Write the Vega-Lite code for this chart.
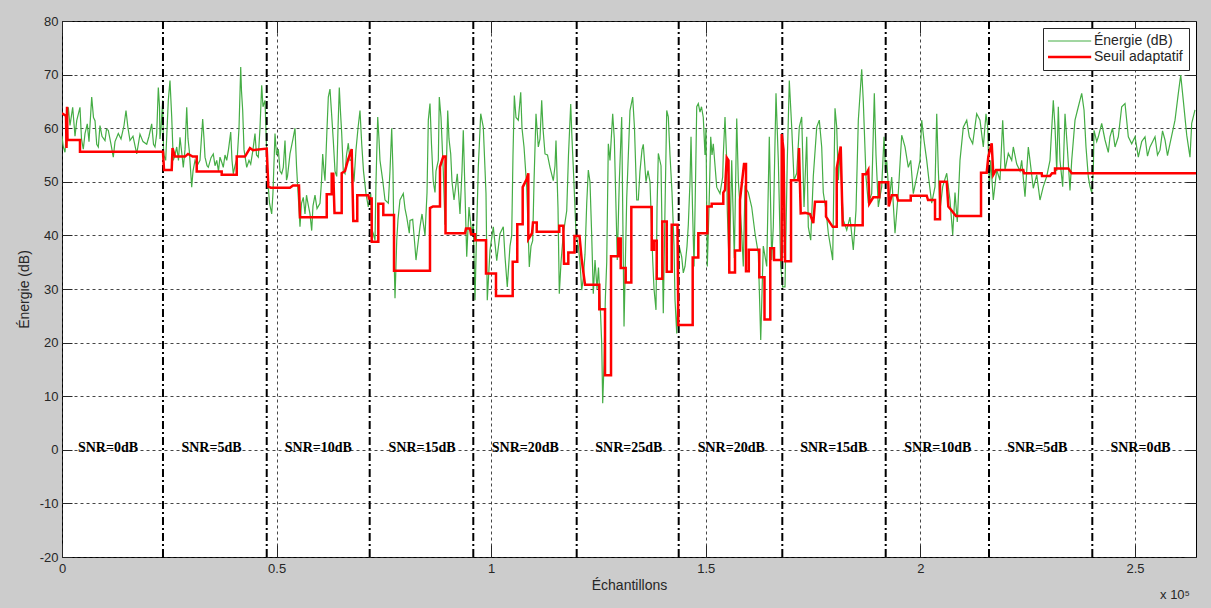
{
  "$schema": "https://vega.github.io/schema/vega-lite/v6.json",
  "width": 1134,
  "height": 536,
  "autosize": {"type": "none"},
  "padding": {"left": 62, "top": 21, "right": 15, "bottom": 51},
  "background": "#cccccc",
  "config": {
    "view": {"fill": "#ffffff", "stroke": "#000000", "strokeWidth": 1},
    "axis": {
      "labelFont": "Liberation Sans", "titleFont": "Liberation Sans",
      "labelFontSize": 13, "titleFontSize": 14, "titleFontWeight": "normal",
      "labelColor": "#262626", "titleColor": "#262626", "tickColor": "#262626",
      "gridColor": "#262626", "gridDash": [3, 3], "gridOpacity": 0.85, "gridWidth": 1,
      "domain": false
    }
  },
  "datasets": {
    "energie": [
      {"x":0,"y":58.5},{"x":0.0030,"y":56.5},{"x":0.0070,"y":55.5},{"x":0.0100,"y":59.0},{"x":0.0147,"y":63.9},{"x":0.0186,"y":60.5},{"x":0.0249,"y":63.9},{"x":0.0303,"y":58.5},{"x":0.0343,"y":61.4},{"x":0.0419,"y":63.9},{"x":0.0454,"y":58.0},{"x":0.0496,"y":56.1},{"x":0.0536,"y":59.0},{"x":0.0589,"y":60.8},{"x":0.0629,"y":57.5},{"x":0.0692,"y":65.8},{"x":0.0734,"y":62.0},{"x":0.0769,"y":61.4},{"x":0.0809,"y":57.0},{"x":0.0846,"y":56.5},{"x":0.0885,"y":60.5},{"x":0.0932,"y":58.5},{"x":0.1002,"y":57.7},{"x":0.1037,"y":59.8},{"x":0.1079,"y":59.6},{"x":0.1142,"y":57.0},{"x":0.1195,"y":54.6},{"x":0.1235,"y":57.5},{"x":0.1312,"y":59.0},{"x":0.1375,"y":58.0},{"x":0.1445,"y":60.5},{"x":0.1491,"y":63.3},{"x":0.1538,"y":60.0},{"x":0.1584,"y":57.7},{"x":0.1654,"y":58.5},{"x":0.1741,"y":55.2},{"x":0.1817,"y":58.9},{"x":0.1887,"y":57.5},{"x":0.1974,"y":57.0},{"x":0.2027,"y":58.5},{"x":0.2090,"y":60.8},{"x":0.2132,"y":57.0},{"x":0.2167,"y":56.5},{"x":0.2207,"y":59.0},{"x":0.2244,"y":67.6},{"x":0.2272,"y":64.0},{"x":0.2283,"y":58.0},{"x":0.2307,"y":60.0},{"x":0.2346,"y":65.2},{"x":0.2365,"y":56.0},
      {"x":0.2377,"y":54.9},{"x":0.2416,"y":54.0},{"x":0.2477,"y":65.2},{"x":0.2516,"y":68.9},{"x":0.2556,"y":62.2},{"x":0.2593,"y":54.0},{"x":0.2633,"y":55.0},{"x":0.2673,"y":56.5},{"x":0.2714,"y":54.0},{"x":0.2749,"y":58.3},{"x":0.2796,"y":55.0},{"x":0.2826,"y":52.7},{"x":0.2866,"y":56.0},{"x":0.2906,"y":63.9},{"x":0.2936,"y":58.0},{"x":0.2966,"y":55.8},{"x":0.3022,"y":49.0},{"x":0.3052,"y":52.0},{"x":0.3099,"y":54.0},{"x":0.3146,"y":53.0},{"x":0.3215,"y":54.0},{"x":0.3278,"y":61.7},{"x":0.3309,"y":58.0},{"x":0.3332,"y":54.6},{"x":0.3379,"y":53.0},{"x":0.3409,"y":52.7},{"x":0.3472,"y":54.5},{"x":0.3525,"y":55.2},{"x":0.3565,"y":53.0},{"x":0.3605,"y":54.0},{"x":0.3646,"y":52.0},{"x":0.3681,"y":54.6},{"x":0.3728,"y":53.5},{"x":0.3758,"y":52.7},{"x":0.3798,"y":55.0},{"x":0.3838,"y":54.0},{"x":0.3879,"y":56.0},{"x":0.3931,"y":59.3},{"x":0.3961,"y":54.0},{"x":0.3991,"y":51.5},{"x":0.4031,"y":53.0},{"x":0.4084,"y":54.6},{"x":0.4124,"y":60.0},{"x":0.4164,"y":71.4},{"x":0.4182,"y":67.0},{"x":0.4210,"y":63.3},{"x":0.4241,"y":56.0},{"x":0.4304,"y":52.7},{"x":0.4357,"y":54.0},{"x":0.4397,"y":53.3},{"x":0.4450,"y":56.0},{"x":0.4497,"y":59.0},{"x":0.4532,"y":55.0},{"x":0.4574,"y":54.6},{"x":0.4613,"y":60.0},{"x":0.4653,"y":68.0},{"x":0.4683,"y":64.0},{"x":0.4730,"y":65.2},{"x":0.4770,"y":55.2},
      {"x":0.4807,"y":49.0},{"x":0.4835,"y":46.0},{"x":0.4886,"y":44.0},{"x":0.4916,"y":48.0},{"x":0.4963,"y":59.0},{"x":0.4998,"y":55.0},{"x":0.5040,"y":56.1},{"x":0.5079,"y":52.0},{"x":0.5119,"y":51.5},{"x":0.5156,"y":52.7},{"x":0.5196,"y":57.7},{"x":0.5231,"y":50.3},{"x":0.5254,"y":51.0},{"x":0.5312,"y":55.2},{"x":0.5382,"y":58.0},{"x":0.5429,"y":60.0},{"x":0.5464,"y":53.0},{"x":0.5492,"y":49.0},{"x":0.5522,"y":45.0},{"x":0.5545,"y":41.6},{"x":0.5580,"y":46.0},{"x":0.5622,"y":47.1},{"x":0.5662,"y":44.0},{"x":0.5697,"y":47.5},{"x":0.5739,"y":45.6},{"x":0.5778,"y":44.0},{"x":0.5818,"y":40.9},{"x":0.5848,"y":45.5},{"x":0.5895,"y":47.5},{"x":0.5942,"y":45.0},{"x":0.6011,"y":46.0},{"x":0.6046,"y":50.0},{"x":0.6074,"y":55.2},{"x":0.6105,"y":52.0},{"x":0.6128,"y":50.2},{"x":0.6175,"y":60.0},{"x":0.6205,"y":65.8},{"x":0.6244,"y":67.3},{"x":0.6279,"y":63.0},{"x":0.6321,"y":57.7},{"x":0.6361,"y":52.0},{"x":0.6401,"y":51.0},{"x":0.6431,"y":60.0},{"x":0.6461,"y":67.6},{"x":0.6489,"y":63.0},{"x":0.6517,"y":59.0},{"x":0.6554,"y":52.0},{"x":0.6594,"y":51.5},{"x":0.6629,"y":55.0},{"x":0.6671,"y":57.2},{"x":0.6710,"y":54.0},{"x":0.6750,"y":54.1},{"x":0.6804,"y":50.0},{"x":0.6850,"y":56.0},{"x":0.6897,"y":60.0},{"x":0.6943,"y":63.3},{"x":0.6983,"y":57.1},{"x":0.7025,"y":52.0},{"x":0.7083,"y":47.8},{"x":0.7137,"y":45.3},{"x":0.7193,"y":47.8},
      {"x":0.7223,"y":41.0},{"x":0.7253,"y":40.3},{"x":0.7293,"y":39.1},{"x":0.7316,"y":50.0},{"x":0.7356,"y":62.1},{"x":0.7386,"y":58.0},{"x":0.7409,"y":54.0},{"x":0.7472,"y":50.3},{"x":0.7526,"y":46.6},{"x":0.7603,"y":46.0},{"x":0.7642,"y":52.0},{"x":0.7682,"y":60.0},{"x":0.7712,"y":52.0},{"x":0.7736,"y":36.6},{"x":0.7759,"y":28.3},{"x":0.7799,"y":39.0},{"x":0.7829,"y":43.0},{"x":0.7875,"y":46.6},{"x":0.7952,"y":47.8},{"x":0.7992,"y":45.0},{"x":0.8032,"y":43.4},{"x":0.8092,"y":40.4},{"x":0.8108,"y":42.8},{"x":0.8171,"y":43.0},{"x":0.8225,"y":37.8},{"x":0.8248,"y":35.4},{"x":0.8302,"y":39.0},{"x":0.8341,"y":41.6},{"x":0.8388,"y":44.0},{"x":0.8458,"y":40.0},{"x":0.8505,"y":48.0},{"x":0.8535,"y":61.5},{"x":0.8574,"y":64.6},{"x":0.8609,"y":57.0},{"x":0.8651,"y":50.0},{"x":0.8691,"y":48.0},{"x":0.8714,"y":52.0},{"x":0.8768,"y":54.0},{"x":0.8791,"y":65.8},{"x":0.8831,"y":62.0},{"x":0.8884,"y":52.0},{"x":0.8924,"y":42.0},{"x":0.8987,"y":63.3},{"x":0.9017,"y":58.0},{"x":0.9057,"y":55.2},{"x":0.9087,"y":50.0},{"x":0.9134,"y":46.6},{"x":0.9210,"y":51.5},{"x":0.9273,"y":44.0},{"x":0.9320,"y":52.0},{"x":0.9350,"y":59.6},{"x":0.9390,"y":48.0},{"x":0.9430,"y":36.0},{"x":0.9483,"y":45.3},{"x":0.9546,"y":40.3},{"x":0.9583,"y":42.2},
      {"x":0.9623,"y":27.9},{"x":0.9658,"y":40.0},{"x":0.9700,"y":52.7},{"x":0.9756,"y":62.7},{"x":0.9816,"y":60.2},{"x":0.9879,"y":47.8},{"x":0.9909,"y":27.9},{"x":0.9972,"y":37.2},{"x":1.0049,"y":41.6},{"x":1.0129,"y":35.3},{"x":1.0205,"y":40.3},{"x":1.0282,"y":41.6},{"x":1.0322,"y":36.0},{"x":1.0375,"y":30.4},{"x":1.0438,"y":38.0},{"x":1.0478,"y":40.0},{"x":1.0508,"y":55.0},{"x":1.0539,"y":66.1},{"x":1.0578,"y":62.0},{"x":1.0632,"y":61.5},{"x":1.0688,"y":66.7},{"x":1.0718,"y":60.0},{"x":1.0765,"y":56.5},{"x":1.0828,"y":49.0},{"x":1.0888,"y":34.1},{"x":1.0928,"y":38.0},{"x":1.0967,"y":39.0},{"x":1.0998,"y":50.0},{"x":1.1044,"y":62.7},{"x":1.1098,"y":56.5},{"x":1.1137,"y":58.0},{"x":1.1177,"y":65.2},{"x":1.1207,"y":60.0},{"x":1.1254,"y":55.2},{"x":1.1312,"y":55.0},{"x":1.1370,"y":52.7},{"x":1.1447,"y":50.2},{"x":1.1487,"y":53.0},{"x":1.1510,"y":57.7},{"x":1.1557,"y":45.0},{"x":1.1587,"y":29.1},{"x":1.1627,"y":35.0},{"x":1.1680,"y":40.3},{"x":1.1760,"y":44.6},{"x":1.1801,"y":55.0},{"x":1.1853,"y":64.5},{"x":1.1883,"y":58.0},{"x":1.1913,"y":52.7},{"x":1.1953,"y":45.0},{"x":1.1976,"y":40.3},
      {"x":1.2030,"y":38.0},{"x":1.2069,"y":35.0},{"x":1.2109,"y":29.8},{"x":1.2146,"y":32.0},{"x":1.2186,"y":36.5},{"x":1.2226,"y":46.0},{"x":1.2263,"y":52.2},{"x":1.2302,"y":50.0},{"x":1.2342,"y":40.0},{"x":1.2379,"y":29.1},{"x":1.2419,"y":35.4},{"x":1.2466,"y":30.0},{"x":1.2500,"y":34.0},{"x":1.2535,"y":28.0},{"x":1.2575,"y":19.9},{"x":1.2598,"y":8.7},{"x":1.2629,"y":16.0},{"x":1.2659,"y":28.0},{"x":1.2692,"y":35.0},{"x":1.2729,"y":57.1},{"x":1.2768,"y":54.0},{"x":1.2831,"y":62.7},{"x":1.2869,"y":58.0},{"x":1.2938,"y":35.4},{"x":1.2985,"y":50.0},{"x":1.3041,"y":62.1},{"x":1.3095,"y":23.0},{"x":1.3158,"y":47.0},{"x":1.3234,"y":63.3},{"x":1.3297,"y":65.8},{"x":1.3339,"y":60.0},{"x":1.3391,"y":46.6},{"x":1.3428,"y":46.6},{"x":1.3467,"y":52.0},{"x":1.3514,"y":56.0},{"x":1.3544,"y":57.0},{"x":1.3607,"y":50.0},{"x":1.3654,"y":52.1},{"x":1.3700,"y":50.0},{"x":1.3763,"y":35.4},{"x":1.3794,"y":30.0},{"x":1.3840,"y":26.1},{"x":1.3864,"y":45.0},{"x":1.3894,"y":55.3},{"x":1.3957,"y":53.0},{"x":1.4010,"y":25.5},{"x":1.4050,"y":45.0},{"x":1.4090,"y":63.3},{"x":1.4127,"y":62.1},{"x":1.4166,"y":55.0},{"x":1.4213,"y":48.0},{"x":1.4260,"y":38.0},{"x":1.4283,"y":28.0},{"x":1.4323,"y":21.7},{"x":1.4353,"y":30.0},
      {"x":1.4383,"y":37.9},{"x":1.4439,"y":36.0},{"x":1.4476,"y":33.0},{"x":1.4516,"y":34.2},{"x":1.4563,"y":38.0},{"x":1.4593,"y":42.0},{"x":1.4632,"y":50.0},{"x":1.4656,"y":58.4},{"x":1.4691,"y":45.0},{"x":1.4726,"y":34.2},{"x":1.4761,"y":50.0},{"x":1.4789,"y":64.0},{"x":1.4826,"y":64.6},{"x":1.4865,"y":63.0},{"x":1.4900,"y":64.0},{"x":1.4942,"y":62.0},{"x":1.4982,"y":55.0},{"x":1.5005,"y":60.0},{"x":1.5035,"y":34.2},{"x":1.5075,"y":45.0},{"x":1.5115,"y":58.4},{"x":1.5145,"y":55.0},{"x":1.5175,"y":57.1},{"x":1.5255,"y":49.0},{"x":1.5331,"y":47.8},{"x":1.5394,"y":50.9},{"x":1.5408,"y":55.0},{"x":1.5448,"y":62.1},{"x":1.5483,"y":55.0},{"x":1.5501,"y":44.6},{"x":1.5548,"y":33.5},{"x":1.5604,"y":54.0},{"x":1.5665,"y":35.8},{"x":1.5721,"y":61.8},{"x":1.5758,"y":50.3},{"x":1.5837,"y":40.4},{"x":1.5874,"y":34.2},{"x":1.5914,"y":49.0},{"x":1.5991,"y":48.0},{"x":1.6070,"y":45.3},{"x":1.6147,"y":40.4},{"x":1.6224,"y":36.6},{"x":1.6280,"y":20.5},{"x":1.6340,"y":38.0},{"x":1.6420,"y":34.2},{"x":1.6480,"y":58.4},{"x":1.6536,"y":35.4},{"x":1.6573,"y":41.6},{"x":1.6636,"y":66.5},{"x":1.6690,"y":54.0},{"x":1.6746,"y":34.2},{"x":1.6792,"y":30.4},
      {"x":1.6846,"y":30.4},{"x":1.6899,"y":54.0},{"x":1.6946,"y":68.9},{"x":1.7002,"y":60.2},{"x":1.7056,"y":50.3},{"x":1.7119,"y":51.6},{"x":1.7179,"y":60.2},{"x":1.7235,"y":62.1},{"x":1.7289,"y":45.3},{"x":1.7352,"y":58.4},{"x":1.7389,"y":41.6},{"x":1.7445,"y":39.1},{"x":1.7505,"y":51.0},{"x":1.7585,"y":60.2},{"x":1.7645,"y":61.5},{"x":1.7701,"y":56.5},{"x":1.7738,"y":48.0},{"x":1.7801,"y":44.7},{"x":1.7855,"y":40.4},{"x":1.7934,"y":36.6},{"x":1.7957,"y":35.4},{"x":1.8011,"y":63.7},{"x":1.8051,"y":60.2},{"x":1.8088,"y":50.3},{"x":1.8127,"y":55.3},{"x":1.8204,"y":42.9},{"x":1.8284,"y":41.0},{"x":1.8360,"y":43.4},{"x":1.8437,"y":37.3},{"x":1.8500,"y":44.7},{"x":1.8554,"y":61.5},{"x":1.8633,"y":71.0},{"x":1.8670,"y":65.0},{"x":1.8733,"y":50.9},{"x":1.8787,"y":46.0},{"x":1.8866,"y":47.8},{"x":1.8927,"y":66.5},{"x":1.8966,"y":55.0},{"x":1.9020,"y":45.3},{"x":1.9099,"y":49.1},{"x":1.9153,"y":58.4},{"x":1.9188,"y":52.0},
      {"x":1.9215,"y":54.0},{"x":1.9276,"y":46.6},{"x":1.9332,"y":50.9},{"x":1.9409,"y":40.4},{"x":1.9486,"y":48.0},{"x":1.9565,"y":58.7},{"x":1.9642,"y":56.5},{"x":1.9719,"y":52.7},{"x":1.9775,"y":54.0},{"x":1.9835,"y":47.8},{"x":1.9915,"y":50.9},{"x":1.9991,"y":54.0},{"x":2.0031,"y":61.5},{"x":2.0085,"y":57.7},{"x":2.0148,"y":54.0},{"x":2.0208,"y":49.7},{"x":2.0264,"y":46.0},{"x":2.0341,"y":49.1},{"x":2.0381,"y":62.7},{"x":2.0418,"y":52.2},{"x":2.0457,"y":44.7},{"x":2.0520,"y":49.1},{"x":2.0614,"y":51.6},{"x":2.0690,"y":46.6},{"x":2.0753,"y":40.1},{"x":2.0807,"y":48.0},{"x":2.0860,"y":42.5},{"x":2.0923,"y":54.0},{"x":2.1000,"y":60.2},{"x":2.1080,"y":61.5},{"x":2.1140,"y":58.4},{"x":2.1219,"y":57.1},{"x":2.1312,"y":62.7},{"x":2.1389,"y":61.5},{"x":2.1466,"y":56.5},{"x":2.1529,"y":62.7},{"x":2.1569,"y":60.2},{"x":2.1606,"y":49.1},
      {"x":2.1639,"y":54.0},{"x":2.1699,"y":46.6},{"x":2.1779,"y":52.2},{"x":2.1855,"y":50.3},{"x":2.1918,"y":61.5},{"x":2.1972,"y":52.2},{"x":2.2049,"y":55.3},{"x":2.2128,"y":54.0},{"x":2.2165,"y":56.5},{"x":2.2245,"y":53.3},{"x":2.2321,"y":52.0},{"x":2.2361,"y":54.0},{"x":2.2438,"y":47.2},{"x":2.2515,"y":56.5},{"x":2.2554,"y":54.0},{"x":2.2631,"y":48.8},{"x":2.2711,"y":51.3},{"x":2.2787,"y":46.6},{"x":2.2864,"y":49.1},{"x":2.2944,"y":51.0},{"x":2.3020,"y":54.0},{"x":2.3097,"y":65.2},{"x":2.3137,"y":60.2},{"x":2.3177,"y":52.0},{"x":2.3214,"y":64.0},{"x":2.3253,"y":54.0},{"x":2.3316,"y":49.1},{"x":2.3370,"y":62.7},{"x":2.3423,"y":56.5},{"x":2.3486,"y":48.4},{"x":2.3526,"y":54.0},{"x":2.3603,"y":61.5},{"x":2.3680,"y":64.0},{"x":2.3759,"y":66.5},{"x":2.3813,"y":63.4},{"x":2.3859,"y":56.5},{"x":2.3913,"y":50.9},{"x":2.3952,"y":49.1},{"x":2.3992,"y":48.0},
      {"x":2.4029,"y":52.0},{"x":2.4046,"y":59.6},{"x":2.4109,"y":57.5},{"x":2.4146,"y":58.4},{"x":2.4225,"y":60.9},{"x":2.4302,"y":57.8},{"x":2.4379,"y":55.5},{"x":2.4418,"y":58.4},{"x":2.4477,"y":60.0},{"x":2.4535,"y":56.5},{"x":2.4612,"y":58.4},{"x":2.4691,"y":64.0},{"x":2.4768,"y":64.6},{"x":2.4845,"y":58.4},{"x":2.4924,"y":57.1},{"x":2.5001,"y":58.4},{"x":2.5078,"y":54.6},{"x":2.5157,"y":57.5},{"x":2.5234,"y":58.4},{"x":2.5292,"y":54.8},{"x":2.5350,"y":56.5},{"x":2.5467,"y":58.4},{"x":2.5525,"y":55.0},{"x":2.5583,"y":55.9},{"x":2.5642,"y":59.5},{"x":2.5700,"y":57.8},{"x":2.5758,"y":54.9},{"x":2.5816,"y":57.1},{"x":2.5933,"y":61.5},{"x":2.6010,"y":66.5},{"x":2.6066,"y":69.9},{"x":2.6126,"y":65.2},{"x":2.6206,"y":58.7},{"x":2.6282,"y":54.6},{"x":2.6322,"y":60.9},{"x":2.6399,"y":63.4}
    ],
    "seuil": [
      {"x":0,"y":62.8},{"x":0.0093,"y":62.3},{"x":0.0105,"y":56.3},{"x":0.0117,"y":64.0},{"x":0.0128,"y":57.8},{"x":0.0419,"y":57.8},{"x":0.0419,"y":55.6},{"x":0.2353,"y":55.6},{"x":0.2377,"y":52.2},{"x":0.2556,"y":52.2},{"x":0.2575,"y":56.3},{"x":0.2633,"y":54.7},{"x":0.2866,"y":54.7},{"x":0.2936,"y":55.2},{"x":0.3045,"y":54.7},{"x":0.3139,"y":54.7},{"x":0.3139,"y":51.9},{"x":0.3721,"y":51.9},{"x":0.3721,"y":51.3},{"x":0.4071,"y":51.3},{"x":0.4071,"y":54.7},{"x":0.4264,"y":54.7},{"x":0.4380,"y":56.3},{"x":0.4450,"y":55.9},{"x":0.4770,"y":56.2},{"x":0.4807,"y":49.1},{"x":0.4863,"y":48.9},{"x":0.5312,"y":48.9},{"x":0.5382,"y":49.3},{"x":0.5522,"y":49.3},{"x":0.5545,"y":43.4},{"x":0.6168,"y":43.4},{"x":0.6168,"y":47.7},{"x":0.6284,"y":47.7},{"x":0.6284,"y":51.5},{"x":0.6321,"y":51.5},{"x":0.6349,"y":44.2},{"x":0.6517,"y":44.2},{"x":0.6517,"y":51.6},{"x":0.6594,"y":52.0},{"x":0.6664,"y":54.1},{"x":0.6750,"y":56.1},{"x":0.6787,"y":42.7},{"x":0.6880,"y":42.7},{"x":0.6880,"y":47.5},{"x":0.7137,"y":47.5},{"x":0.7153,"y":46.9},{"x":0.7216,"y":46.9},{"x":0.7216,"y":38.8},{"x":0.7370,"y":38.8},{"x":0.7370,"y":45.9},{"x":0.7486,"y":45.9},{"x":0.7486,"y":43.8},{"x":0.7736,"y":43.8},{"x":0.7736,"y":33.4},{"x":0.8574,"y":33.4},{"x":0.8574,"y":45.1},{"x":0.8644,"y":45.4},{"x":0.8807,"y":45.4},{"x":0.8807,"y":52.8},{"x":0.8884,"y":54.7},{"x":0.8936,"y":54.7},{"x":0.8936,"y":40.4},{"x":0.9390,"y":40.4},{"x":0.9413,"y":41.3},{"x":0.9506,"y":41.3},{"x":0.9530,"y":40.2},{"x":0.9623,"y":40.2},{"x":0.9623,"y":39.1},{"x":0.9879,"y":39.1},{"x":0.9879,"y":32.9},{"x":1.0112,"y":32.9},{"x":1.0112,"y":28.7},{"x":1.0501,"y":28.7},{"x":1.0501,"y":35.1},{"x":1.0608,"y":35.1},{"x":1.0608,"y":42.1},{"x":1.0734,"y":42.1},{"x":1.0734,"y":49.0},{"x":1.0828,"y":50.5},{"x":1.0865,"y":51.6},{"x":1.0865,"y":39.3},{"x":1.0951,"y":40.4},{"x":1.0974,"y":42.4},{"x":1.1061,"y":42.4},{"x":1.1061,"y":40.7},{"x":1.1587,"y":40.7},{"x":1.1587,"y":41.8},{"x":1.1680,"y":41.8},{"x":1.1697,"y":34.7},{"x":1.1797,"y":34.7},{"x":1.1797,"y":36.8},{"x":1.1941,"y":36.8},{"x":1.1941,"y":39.9},{"x":1.2058,"y":39.9},{"x":1.2109,"y":35.5},{"x":1.2186,"y":30.8},{"x":1.2519,"y":30.8},{"x":1.2519,"y":26.2},{"x":1.2652,"y":26.2},{"x":1.2652,"y":13.9},{"x":1.2792,"y":13.9},{"x":1.2792,"y":36.1},{"x":1.2962,"y":36.1},{"x":1.2962,"y":39.4},{"x":1.3018,"y":39.4},{"x":1.3018,"y":33.9},{"x":1.3134,"y":33.9},{"x":1.3134,"y":31.2},{"x":1.3265,"y":31.2},{"x":1.3265,"y":45.3},{"x":1.3740,"y":45.3},{"x":1.3740,"y":37.3},{"x":1.3794,"y":37.3},{"x":1.3794,"y":39.0},{"x":1.3857,"y":39.0},{"x":1.3857,"y":31.9},{"x":1.3987,"y":31.9},{"x":1.3987,"y":42.6},{"x":1.4090,"y":42.6},{"x":1.4090,"y":33.2},{"x":1.4206,"y":33.2},{"x":1.4206,"y":42.0},{"x":1.4341,"y":42.0},{"x":1.4360,"y":23.3},{"x":1.4695,"y":23.3},{"x":1.4695,"y":35.9},{"x":1.4826,"y":35.9},{"x":1.4826,"y":40.4},{"x":1.5035,"y":40.4},{"x":1.5035,"y":45.4},{"x":1.5138,"y":45.4},{"x":1.5138,"y":45.9},{"x":1.5408,"y":45.9},{"x":1.5408,"y":48.0},{"x":1.5448,"y":48.5},{"x":1.5488,"y":54.5},{"x":1.5529,"y":54.0},{"x":1.5548,"y":33.1},{"x":1.5681,"y":33.1},{"x":1.5681,"y":37.2},{"x":1.5797,"y":37.2},{"x":1.5797,"y":46.6},{"x":1.5891,"y":53.3},{"x":1.5937,"y":53.3},{"x":1.5937,"y":33.3},{"x":1.6002,"y":33.3},{"x":1.6002,"y":37.3},{"x":1.6247,"y":37.3},{"x":1.6247,"y":32.2},{"x":1.6368,"y":32.2},{"x":1.6368,"y":24.3},{"x":1.6503,"y":24.3},{"x":1.6503,"y":37.6},{"x":1.6590,"y":37.6},{"x":1.6590,"y":35.4},{"x":1.6769,"y":35.4},{"x":1.6769,"y":58.9},{"x":1.6811,"y":56.0},{"x":1.6846,"y":35.2},{"x":1.6986,"y":35.2},{"x":1.6986,"y":50.3},{"x":1.7156,"y":50.3},{"x":1.7172,"y":56.3},{"x":1.7212,"y":44.1},{"x":1.7312,"y":44.2},{"x":1.7428,"y":44.0},{"x":1.7505,"y":42.3},{"x":1.7545,"y":46.3},{"x":1.7801,"y":46.3},{"x":1.7801,"y":43.5},{"x":1.7957,"y":41.6},{"x":1.8051,"y":41.6},{"x":1.8051,"y":52.5},{"x":1.8144,"y":56.6},{"x":1.8190,"y":41.9},{"x":1.8656,"y":41.9},{"x":1.8656,"y":51.4},{"x":1.8733,"y":51.4},{"x":1.8787,"y":52.2},{"x":1.8810,"y":45.9},{"x":1.8903,"y":47.1},{"x":1.9043,"y":47.1},{"x":1.9043,"y":49.9},{"x":1.9253,"y":49.9},{"x":1.9264,"y":45.4},{"x":1.9332,"y":47.5},{"x":1.9449,"y":47.5},{"x":1.9479,"y":46.5},{"x":1.9775,"y":46.5},{"x":1.9775,"y":47.4},{"x":2.0148,"y":47.4},{"x":2.0178,"y":46.6},{"x":2.0341,"y":46.6},{"x":2.0341,"y":43.0},{"x":2.0457,"y":43.0},{"x":2.0457,"y":50.0},{"x":2.0614,"y":50.0},{"x":2.0651,"y":45.4},{"x":2.0690,"y":45.0},{"x":2.0830,"y":43.6},{"x":2.1413,"y":43.6},{"x":2.1413,"y":51.7},{"x":2.1545,"y":51.7},{"x":2.1583,"y":54.7},{"x":2.1662,"y":57.2},{"x":2.1699,"y":51.3},{"x":2.1762,"y":52.2},{"x":2.2398,"y":52.2},{"x":2.2415,"y":51.6},{"x":2.2827,"y":51.6},{"x":2.2834,"y":51.1},{"x":2.3020,"y":51.1},{"x":2.3067,"y":51.6},{"x":2.3137,"y":51.6},{"x":2.3137,"y":52.5},{"x":2.3447,"y":52.5},{"x":2.3526,"y":51.6},{"x":2.6422,"y":51.6}
    ],
    "frontieres": [
      {"x":0.2353},{"x":0.4770},{"x":0.7169},{"x":0.9583},{"x":1.1992},{"x":1.4369},{"x":1.6783},{"x":1.9192},{"x":2.1599},{"x":2.4006}
    ],
    "snr": [
      {"x":0.1072,"y":0,"label":"SNR=0dB"},{"x":0.3483,"y":0,"label":"SNR=5dB"},{"x":0.5972,"y":0,"label":"SNR=10dB"},{"x":0.8390,"y":0,"label":"SNR=15dB"},{"x":1.0795,"y":0,"label":"SNR=20dB"},{"x":1.3206,"y":0,"label":"SNR=25dB"},{"x":1.5592,"y":0,"label":"SNR=20dB"},{"x":1.7980,"y":0,"label":"SNR=15dB"},{"x":2.0406,"y":0,"label":"SNR=10dB"},{"x":2.2722,"y":0,"label":"SNR=5dB"},{"x":2.5129,"y":0,"label":"SNR=0dB"}
    ],
    "echelle": [
      {"x":2.6422,"y":-20,"t":"x 10⁵"}
    ]
  },
  "layer": [
    {
      "data": {"name": "energie"},
      "mark": {"type": "line", "strokeWidth": 1.2, "order": false, "clip": true},
      "encoding": {
        "x": {"field": "x", "type": "quantitative",
          "scale": {"domain": [0, 2.6422], "nice": false, "zero": false},
          "axis": {"values": [0, 0.5, 1, 1.5, 2, 2.5], "format": "~g", "title": "Échantillons", "grid": true, "tickSize": -12, "labelPadding": 17, "titlePadding": 3, "labelFlush": false}},
        "y": {"field": "y", "type": "quantitative",
          "scale": {"domain": [-20, 80], "nice": false, "zero": false},
          "axis": {"values": [-20, -10, 0, 10, 20, 30, 40, 50, 60, 70, 80], "labelExpr": "datum.value < 0 ? '-' + abs(datum.value) : '' + datum.value", "title": "Énergie (dB)", "grid": true, "tickSize": -10, "labelPadding": 14, "titlePadding": 8}},
        "color": {"datum": "Énergie (dB)", "type": "nominal",
          "scale": {"domain": ["Énergie (dB)", "Seuil adaptatif"], "range": ["#45ad45", "#ff0000"]},
          "legend": {"title": null, "orient": "top-right", "offset": 7, "padding": 6,
            "fillColor": "#ffffff", "strokeColor": "#262626", "cornerRadius": 0,
            "symbolType": "M-1,0H4.4", "symbolSize": 256, "symbolOffset": 0, "symbolStrokeWidth": 1, "rowPadding": 2,
            "labelFont": "Liberation Sans", "labelFontSize": 14, "labelColor": "#262626", "labelOffset": 31,
            "encode": {"symbols": {"update": {"strokeWidth": {"signal": "datum.value === 'Seuil adaptatif' ? 2.5 : 1"}}}}}}
      }
    },
    {
      "data": {"name": "frontieres"},
      "mark": {"type": "rule", "color": "#000000", "strokeWidth": 2, "strokeDash": [8, 3, 2, 3]},
      "encoding": {
        "x": {"field": "x", "type": "quantitative",
          "axis": {"orient": "top", "values": [0, 0.5, 1, 1.5, 2, 2.5], "labels": false, "title": null, "grid": false, "tickSize": -12}}
      }
    },
    {
      "data": {"name": "seuil"},
      "mark": {"type": "line", "strokeWidth": 2.5, "order": false, "clip": true},
      "encoding": {
        "x": {"field": "x", "type": "quantitative", "axis": null},
        "y": {"field": "y", "type": "quantitative", "axis": null},
        "color": {"datum": "Seuil adaptatif", "type": "nominal"}
      }
    },
    {
      "data": {"name": "snr"},
      "mark": {"type": "text", "font": "Liberation Serif", "fontWeight": "bold", "fontSize": 14, "color": "#000000", "align": "center", "baseline": "middle", "dy": -2},
      "encoding": {
        "x": {"field": "x", "type": "quantitative", "axis": null},
        "y": {"field": "y", "type": "quantitative",
          "axis": {"orient": "right", "values": [-20, -10, 0, 10, 20, 30, 40, 50, 60, 70, 80], "labels": false, "title": null, "grid": false, "tickSize": -10}},
        "text": {"field": "label"}
      }
    },
    {
      "data": {"name": "echelle"},
      "mark": {"type": "text", "font": "Liberation Sans", "fontSize": 13, "color": "#262626", "align": "right", "baseline": "middle", "dy": 38, "dx": -6},
      "encoding": {
        "x": {"field": "x", "type": "quantitative", "axis": null},
        "y": {"field": "y", "type": "quantitative", "axis": null},
        "text": {"field": "t"}
      }
    }
  ],
  "resolve": {"axis": {"x": "independent", "y": "independent"}}
}
